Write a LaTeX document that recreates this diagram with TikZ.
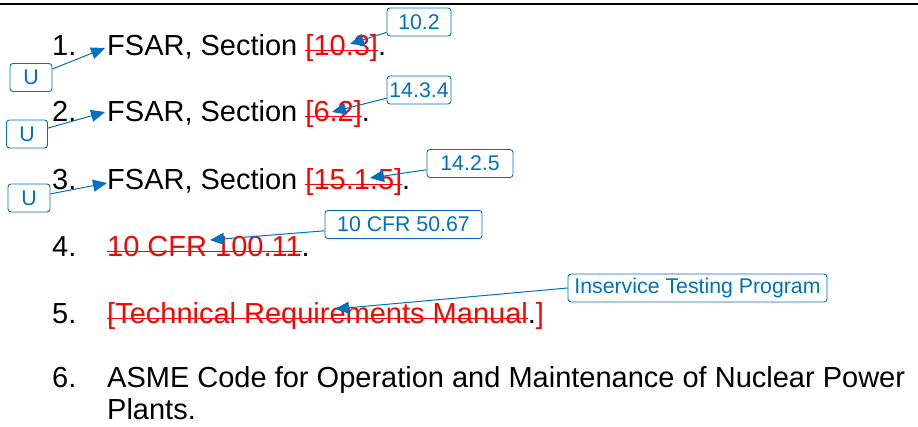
\documentclass[tikz,border=0pt]{standalone}
\usepackage{fontspec}
\setmainfont{Liberation Sans}
\usetikzlibrary{arrows.meta,positioning}
\definecolor{noteblue}{RGB}{0,112,192}
\definecolor{delred}{RGB}{255,0,0}
\newsavebox{\delbox}
\newcommand{\deltext}[1]{{\color{delred}\sbox{\delbox}{#1}\rlap{\rule[4.6pt]{\wd\delbox}{1.8pt}}\usebox{\delbox}}}
\tikzset
{
    itemnum/.style   = {anchor=base west, inner sep=0pt, font=\fontsize{29}{33}\selectfont},
    itemtext/.style  = {anchor=base west, inner sep=0pt, font=\fontsize{29}{33}\selectfont},
    callout/.style   = {draw=noteblue, text=noteblue, rounded corners=3pt, line width=0.9pt, minimum height=28pt, inner xsep=0pt, inner ysep=0pt, font=\fontsize{21.3}{24}\selectfont},
    notearrow/.style = {draw=noteblue, line width=1pt, arrows={-Triangle[length=14pt, width=12pt, fill=noteblue]}}
}

\begin{document}
\begin{tikzpicture}[x=1pt, y=-1pt]
    \useasboundingbox (0,0) rectangle (918,427);
    % rule at the top
    \coordinate (rulel) at (0,4);
    \coordinate (ruler) at (918,4);
    \draw[line width=2pt] (rulel) -- (ruler);

    % the list
    \node [itemnum] (num1) at (52,56) {1.};
    \node [itemtext] (item1) at (107,56) {FSAR, Section \deltext{[10.3]}.};
    \node [itemnum] (num2) at (52,122) {2.};
    \node [itemtext] (item2) at (107,122) {FSAR, Section \deltext{[6.2]}.};
    \node [itemnum] (num3) at (52,190) {3.};
    \node [itemtext] (item3) at (107,190) {FSAR, Section \deltext{[15.1.5]}.};
    \node [itemnum] (num4) at (52,257) {4.};
    \node [itemtext] (item4) at (107,257) {\deltext{10 CFR 100.11}.};
    \node [itemnum] (num5) at (52,324) {5.};
    \node [itemtext] (item5) at (107,324) {\deltext{[Technical Requirements Manual}.{\color{delred}]}};
    \node [itemnum] (num6) at (52,388) {6.};
    \node [itemtext] (item6) at (107,388) {ASME Code for Operation and Maintenance of Nuclear Power};
    \node [itemtext] (item6b) at (107,419) {Plants.};

    % callouts
    \node [callout, minimum width=64pt] (c102) at (419,22) {10.2};
    \node [callout, minimum width=42pt] (u1) at (31,77.5) {U};
    \node [callout, minimum width=64pt] (c1434) at (419,90) {14.3.4};
    \node [callout, minimum width=41pt] (u2) at (27,134) {U};
    \node [callout, minimum width=86pt] (c1425) at (470,163.5) {14.2.5};
    \node [callout, minimum width=42pt] (u3) at (29,198) {U};
    \node [callout, minimum width=157pt] (ccfr) at (403.5,224.5) {10 CFR 50.67};
    \node [callout, minimum width=259pt] (cist) at (697.5,288) {Inservice Testing Program};

    % where the arrows point
    \coordinate (t102) at (350,44);
    \coordinate (tu1) at (105,48);
    \coordinate (t1434) at (332,112);
    \coordinate (tu2) at (105,112);
    \coordinate (t1425) at (370,178);
    \coordinate (tu3) at (107,183);
    \coordinate (tcfr) at (210,240);
    \coordinate (tist) at (335,309);

    \draw [notearrow] (c102) -- (t102);
    \draw [notearrow] (u1) -- (tu1);
    \draw [notearrow] (c1434) -- (t1434);
    \draw [notearrow] (u2) -- (tu2);
    \draw [notearrow] (c1425) -- (t1425);
    \draw [notearrow] (u3) -- (tu3);
    \draw [notearrow] (ccfr) -- (tcfr);
    \draw [notearrow] (cist.west) -- (tist);
\end{tikzpicture}
\end{document}
